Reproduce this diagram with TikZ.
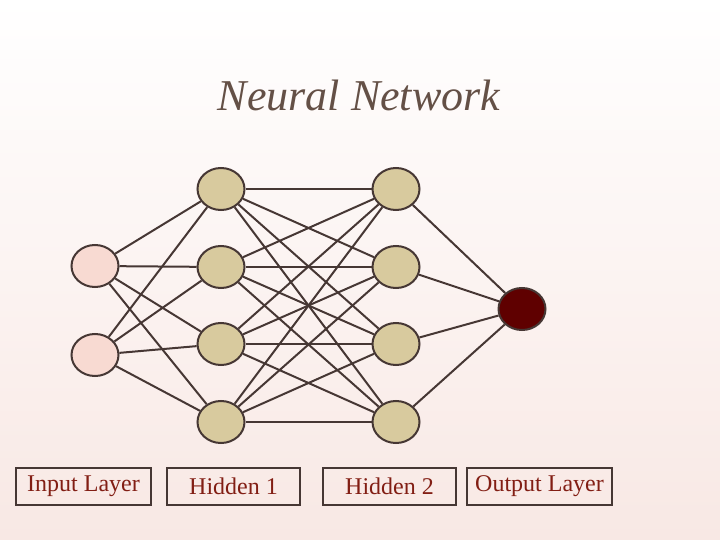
\documentclass[tikz,border=0pt]{standalone}
\usepackage{fontspec}
\setmainfont{Liberation Serif}
\usetikzlibrary{shapes.geometric}
\begin{document}
\begin{tikzpicture}[x=1pt,y=-1pt,
 neu/.style={ellipse,draw=linec,line width=2pt,minimum width=47pt,minimum height=42pt,inner sep=0pt},
 lab/.style={draw=linec,line width=1.6pt,minimum height=37pt,inner sep=0pt,text=labc,font=\fontsize{24}{28}\selectfont},
 edge/.style={draw=linec,line width=2pt}]
\definecolor{linec}{RGB}{70,55,52}
\definecolor{inc}{RGB}{248,218,210}
\definecolor{hidc}{RGB}{216,202,158}
\definecolor{outc}{RGB}{95,0,0}
\definecolor{labc}{RGB}{130,30,20}
\definecolor{bgtop}{RGB}{255,255,255}
\definecolor{bgbot}{RGB}{248,232,228}
\shade[top color=bgtop,bottom color=bgbot] (0,0) rectangle (720,540);
\useasboundingbox (0,0) rectangle (720,540);
\node[text={rgb,255:red,100;green,80;blue,70},font=\itshape\fontsize{44}{50}\selectfont] (title) at (359,95) {Neural Network};
\node[neu,fill=inc] (i1) at (95,266) {};
\node[neu,fill=inc] (i2) at (95,355) {};
\foreach \k/\y in {1/189,2/267,3/344,4/422}{
 \node[neu,fill=hidc] (a\k) at (221,\y) {};
 \node[neu,fill=hidc] (b\k) at (396,\y) {};
}
\node[neu,fill=outc] (o) at (522,309) {};
\foreach \i in {1,2}{\foreach \k in {1,2,3,4}{\draw[edge] (i\i) -- (a\k);}}
\foreach \i in {1,2,3,4}{\foreach \k in {1,2,3,4}{\draw[edge] (a\i) -- (b\k);}}
\foreach \k in {1,2,3,4}{\draw[edge] (b\k) -- (o);}
\node[lab,minimum width=135pt] (l1) at (83.5,486.5) {Input Layer};
\node[lab,minimum width=133pt] (l2) at (233.5,486.5) {Hidden 1};
\node[lab,minimum width=133pt] (l3) at (389.5,486.5) {Hidden 2};
\node[lab,minimum width=145pt] (l4) at (539.5,486.5) {Output Layer};
\end{tikzpicture}
\end{document}
